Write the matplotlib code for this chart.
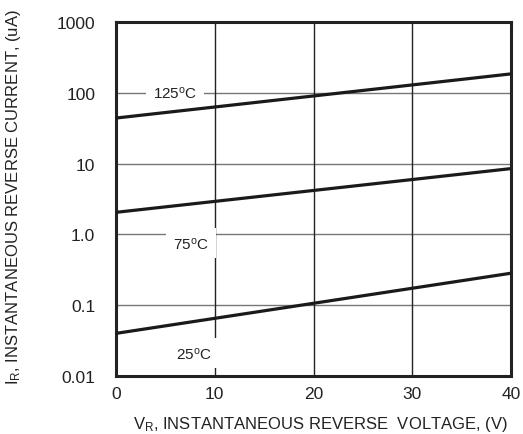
import matplotlib
matplotlib.use("Agg")
import matplotlib.pyplot as plt
import numpy as np

plt.rcParams['font.family'] = ['Liberation Sans', 'DejaVu Sans']
plt.rcParams['mathtext.fontset'] = 'custom'
plt.rcParams['mathtext.rm'] = 'Liberation Sans'
plt.rcParams['mathtext.it'] = 'Liberation Sans'

voltage = [0, 40]
i_125 = [44, 185]
i_75 = [2.05, 8.5]
i_25 = [0.040, 0.283]
x_ticks = [0, 10, 20, 30, 40]
y_ticks = [0.01, 0.1, 1, 10, 100, 1000]
y_tick_labels = ["0.01", "0.1", "1.0", "10", "100", "1000"]
labels = [("125$^{\\rm o}$C", 6.0, 100), ("75$^{\\rm o}$C", 7.6, 0.75), ("25$^{\\rm o}$C", 7.9, 0.021)]

fig = plt.figure(figsize=(5.23, 4.35), dpi=100)
ax = fig.add_axes([116/523, 1-377/435, (511-116)/523, (377-23)/435])
ax.set_yscale('log')
ax.set_xlim(0, 40)
ax.set_ylim(0.01, 1000)

for yv in y_ticks[1:-1]:
    ax.axhline(yv, color='#777777', lw=1.0, zorder=1)
for xv in x_ticks[1:-1]:
    ax.axvline(xv, color='#222222', lw=1.0, zorder=1)

for ys in (i_125, i_75, i_25):
    ax.plot(voltage, ys, color='#1a1a1a', lw=2.3, zorder=3, solid_capstyle='butt')

for txt, xv, yv in labels:
    ax.text(xv, yv, txt, fontsize=11, ha='center', va='center', zorder=2, color='#222222',
            bbox=dict(facecolor='white', edgecolor='none', pad=5))

ax.set_xticks(x_ticks)
ax.set_xticklabels([str(v) for v in x_ticks])
ax.set_yticks(y_ticks)
ax.set_yticklabels(y_tick_labels)
ax.yaxis.set_minor_locator(matplotlib.ticker.NullLocator())
ax.tick_params(axis='y', which='both', length=0, labelsize=12.5, pad=15, colors='#222222')
ax.tick_params(axis='x', which='both', length=0, labelsize=12.5, pad=7, colors='#222222')
for s in ax.spines.values():
    s.set_linewidth(2.2)
    s.set_color('#222222')

ax.set_xlabel("V$_{\\rm R}$, INSTANTANEOUS REVERSE  VOLTAGE, (V)", fontsize=12, color='#222222', va='top')
ax.xaxis.set_label_coords(0.517, -0.106)
ax.set_ylabel("I$_{\\rm R}$, INSTANTANEOUS REVERSE CURRENT, (uA)", fontsize=12, color='#222222')
ax.yaxis.set_label_coords(-0.235, 0.507)

fig.savefig("out.png", dpi=100)
